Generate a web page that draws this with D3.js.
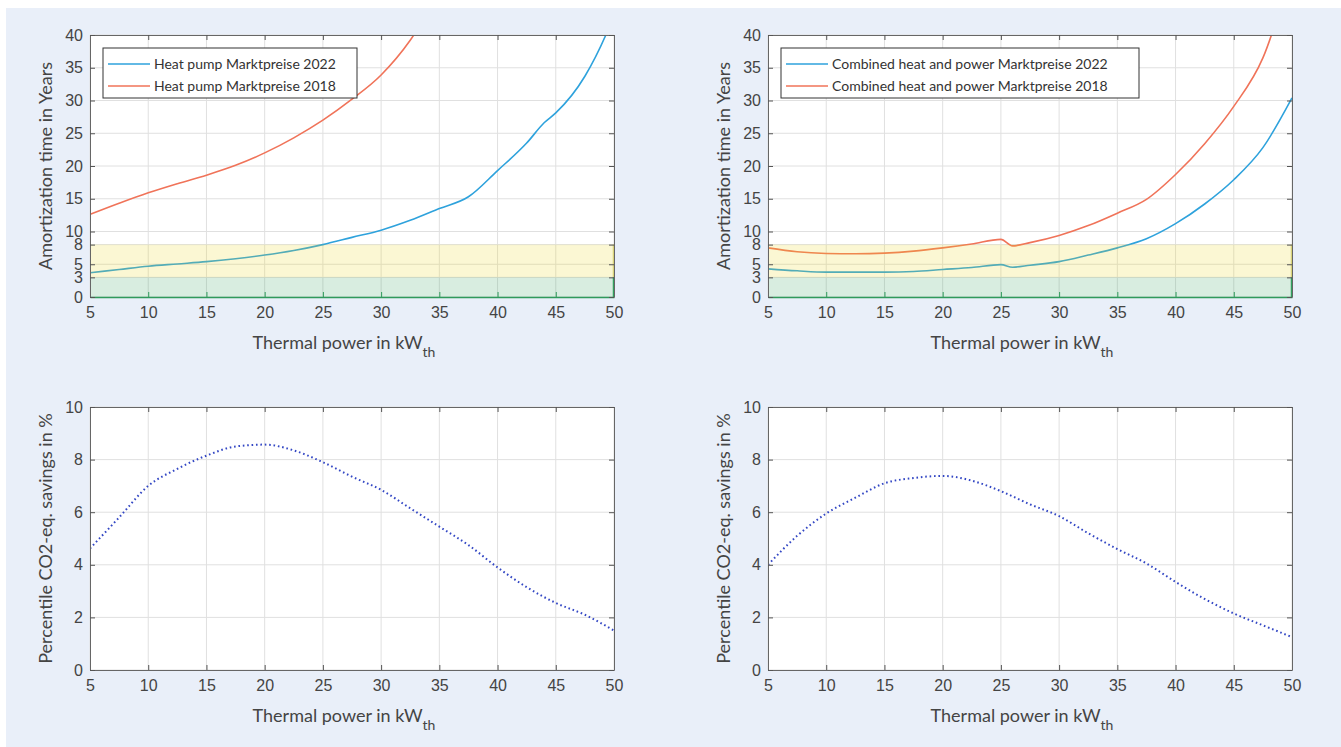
<!DOCTYPE html>
<html>
<head>
<meta charset="utf-8">
<script src="https://d3js.org/d3.v7.min.js"></script>
<style>
  body { margin: 0; background: #fff; }
  svg { display: block; font-family: Lato, "Noto Sans", sans-serif; }
  .tick text { fill: #444; font-size: 16px; }
  .grid line { stroke: #e0e0e0; stroke-width: 1; }
  .lbl { fill: #444; font-size: 18px; }
  .leg { fill: #333; font-size: 14px; }
</style>
</head>
<body>
<script>
// ---- data ----
var powerTicks = [5, 10, 15, 20, 25, 30, 35, 40, 45, 50];
var amortTicks = [0, 3, 5, 8, 10, 15, 20, 25, 30, 35, 40];
var savingTicks = [0, 2, 4, 6, 8, 10];

// heat pump, amortization time (years)
var hpPower2022 = [5, 7.5, 10, 12.5, 15, 17.5, 20, 22.5, 25, 27.5, 30, 32.5, 35, 37.5, 40, 42.5, 44, 45, 47.5, 49.3, 50];
var hp2022      = [3.7, 4.2, 4.7, 5.05, 5.4, 5.85, 6.4, 7.1, 8.0, 9.1, 10.2, 11.7, 13.5, 15.3, 19.3, 23.5, 26.6, 28.1, 33.7, 40, 43];
var hpPower2018 = [5, 7.5, 10, 12.5, 15, 17.5, 20, 22.5, 25, 27.5, 30, 32.5, 35];
var hp2018      = [12.6, 14.3, 15.9, 17.3, 18.6, 20.1, 22.0, 24.3, 27.0, 30.2, 33.9, 39.2, 46.5];

// combined heat and power, amortization time (years)
var chpPower2022 = [5, 7.5, 10, 12.5, 15, 17.5, 20, 22.5, 25, 26, 27.5, 30, 32.5, 35, 37.5, 40, 42.5, 45, 47.5, 50];
var chp2022      = [4.3, 4.0, 3.8, 3.8, 3.8, 3.9, 4.2, 4.5, 4.95, 4.55, 4.85, 5.4, 6.4, 7.5, 8.9, 11.2, 14.2, 17.9, 22.8, 30.4];
var chpPower2018 = [5, 7.5, 10, 12.5, 15, 17.5, 20, 22.5, 25, 26, 27.5, 30, 32.5, 35, 37.5, 40, 42.5, 45, 47.5, 50];
var chp2018      = [7.5, 6.9, 6.65, 6.6, 6.7, 7.0, 7.5, 8.1, 8.8, 7.8, 8.3, 9.4, 10.9, 12.8, 14.9, 18.7, 23.4, 29.1, 36.5, 50];

// CO2-eq. savings (%)
var savPower = [5, 7.5, 10, 12.5, 15, 17.5, 20, 22.5, 25, 27.5, 30, 32.5, 35, 37.5, 40, 42.5, 45, 47.5, 50];
var hpSavings  = [4.62, 5.8, 7.0, 7.65, 8.15, 8.5, 8.57, 8.35, 7.9, 7.35, 6.85, 6.15, 5.45, 4.75, 3.9, 3.15, 2.55, 2.1, 1.5];
var chpSavings = [4.0, 5.1, 5.95, 6.55, 7.1, 7.3, 7.38, 7.2, 6.8, 6.3, 5.85, 5.2, 4.6, 4.05, 3.35, 2.7, 2.15, 1.7, 1.25];

var blue = "#2ea2dc", red = "#f07359";

var svg = d3.select("body").append("svg")
  .attr("width", 1341).attr("height", 747);

svg.append("rect")
  .attr("x", 6).attr("y", 8).attr("width", 1335).attr("height", 739)
  .attr("fill", "#e9eff9");

var clipId = 0;

function panel(opt) {
  var w = 524, h = opt.h;
  var g = svg.append("g").attr("transform", "translate(" + opt.left + "," + opt.top + ")");
  var x = d3.scaleLinear().domain([5, 50]).range([0, w]);
  var y = d3.scaleLinear().domain(opt.ydom).range([h, 0]);

  g.append("rect").attr("width", w).attr("height", h).attr("fill", "#fff");

  // grid
  var grid = g.append("g").attr("class", "grid");
  grid.selectAll(".vx").data(powerTicks).enter().append("line")
    .attr("x1", x).attr("x2", x).attr("y1", 0).attr("y2", h);
  grid.selectAll(".hy").data(opt.yticks).enter().append("line")
    .attr("y1", y).attr("y2", y).attr("x1", 0).attr("x2", w);

  // lines
  var id = "clip" + (clipId++);
  g.append("clipPath").attr("id", id).append("rect").attr("width", w).attr("height", h);
  var plot = g.append("g").attr("clip-path", "url(#" + id + ")");

  opt.series.forEach(function(s) {
    var pts = s.x.map(function(v, i) { return [v, s.y[i]]; });
    var line = d3.line()
      .x(function(d) { return x(d[0]); })
      .y(function(d) { return y(d[1]); })
      .curve(d3.curveMonotoneX);
    var p = plot.append("path").datum(pts)
      .attr("d", line)
      .attr("fill", "none")
      .attr("stroke", s.color)
      .attr("stroke-width", s.dotted ? 2 : 1.6);
    if (s.dotted) p.attr("stroke-dasharray", "1.6,2.8");
  });

  // bands drawn on top, semi transparent
  if (opt.bands) {
    plot.append("rect")
      .attr("x", 0).attr("width", w)
      .attr("y", y(8)).attr("height", y(3) - y(8))
      .attr("fill", "#ecd825").attr("fill-opacity", 0.2);
    plot.append("rect")
      .attr("x", 0).attr("width", w)
      .attr("y", y(3)).attr("height", y(0) - y(3))
      .attr("fill", "#3ca564").attr("fill-opacity", 0.2);
    // right-hand edges of the bands
    plot.append("line").attr("x1", w - 0.5).attr("x2", w - 0.5).attr("y1", y(8)).attr("y2", y(3))
      .attr("stroke", "#d8d27a").attr("stroke-width", 1.5);
    plot.append("line").attr("x1", w - 0.5).attr("x2", w - 0.5).attr("y1", y(3)).attr("y2", y(0))
      .attr("stroke", "#34a060").attr("stroke-width", 1.5);
  }

  // axes, box style with inward ticks
  var xa = g.append("g").attr("transform", "translate(0," + h + ")")
    .call(d3.axisBottom(x).tickValues(powerTicks).tickSizeInner(-5).tickSizeOuter(0).tickPadding(10));
  var xt = g.append("g")
    .call(d3.axisTop(x).tickValues(powerTicks).tickSizeInner(-5).tickSizeOuter(0).tickFormat(""));
  var ya = g.append("g")
    .call(d3.axisLeft(y).tickValues(opt.yticks).tickSizeInner(-5).tickSizeOuter(0).tickPadding(7));
  var yr = g.append("g").attr("transform", "translate(" + w + ",0)")
    .call(d3.axisRight(y).tickValues(opt.yticks).tickSizeInner(-5).tickSizeOuter(0).tickFormat(""));
  [xa, xt, ya, yr].forEach(function(a) {
    a.select(".domain").attr("stroke", "#666");
    a.selectAll(".tick line").attr("stroke", "#555");
    a.selectAll("text").attr("font-family", null);
  });
  if (opt.bands) {
    xa.select(".domain").attr("stroke", "#2f9a5b").attr("stroke-width", 1.5);
    xa.selectAll(".tick line").attr("stroke", "#2f9a5b");
  }

  // labels
  var xl = g.append("text").attr("class", "lbl")
    .attr("x", w / 2 - 8).attr("y", h + 52)
    .attr("text-anchor", "middle");
  xl.append("tspan").text("Thermal power in kW");
  xl.append("tspan").attr("dy", 8).attr("font-size", 14).text("th");

  g.append("text").attr("class", "lbl")
    .attr("transform", "translate(-38," + (h / 2) + ") rotate(-90)")
    .attr("text-anchor", "middle")
    .text(opt.ylabel);

  // legend
  if (opt.legend) {
    var lg = g.append("g").attr("transform", "translate(13,13)");
    lg.append("rect").attr("width", opt.legendW).attr("height", 50)
      .attr("fill", "#fff").attr("stroke", "#333").attr("stroke-width", 1);
    opt.series.forEach(function(s, i) {
      var yy = 16 + i * 22;
      lg.append("line").attr("x1", 5).attr("x2", 47).attr("y1", yy).attr("y2", yy)
        .attr("stroke", s.color).attr("stroke-width", 1.6);
      lg.append("text").attr("class", "leg").attr("x", 51).attr("y", yy + 5).text(s.name);
    });
  }
}

panel({
  left: 90, top: 35, h: 262, ydom: [0, 40], yticks: amortTicks, bands: true,
  ylabel: "Amortization time in Years", legend: true, legendW: 254,
  series: [
    { name: "Heat pump Marktpreise 2022", x: hpPower2022, y: hp2022, color: blue },
    { name: "Heat pump Marktpreise 2018", x: hpPower2018, y: hp2018, color: red }
  ]
});
panel({
  left: 768, top: 35, h: 262, ydom: [0, 40], yticks: amortTicks, bands: true,
  ylabel: "Amortization time in Years", legend: true, legendW: 358,
  series: [
    { name: "Combined heat and power Marktpreise 2022", x: chpPower2022, y: chp2022, color: blue },
    { name: "Combined heat and power Marktpreise 2018", x: chpPower2018, y: chp2018, color: red }
  ]
});
panel({
  left: 90, top: 407, h: 263, ydom: [0, 10], yticks: savingTicks,
  ylabel: "Percentile CO2-eq. savings in %",
  series: [ { x: savPower, y: hpSavings, color: "#3347c4", dotted: true } ]
});
panel({
  left: 768, top: 407, h: 263, ydom: [0, 10], yticks: savingTicks,
  ylabel: "Percentile CO2-eq. savings in %",
  series: [ { x: savPower, y: chpSavings, color: "#3347c4", dotted: true } ]
});
</script>
</body>
</html>
